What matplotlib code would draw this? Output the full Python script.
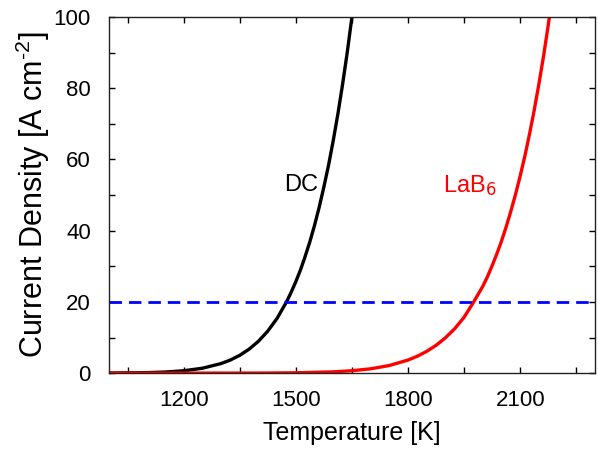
import numpy as np
import matplotlib
matplotlib.use('Agg')
import matplotlib.pyplot as plt
from matplotlib.ticker import MultipleLocator

plt.rcParams['font.family'] = ['Liberation Sans', 'DejaVu Sans']
plt.rcParams['mathtext.fontset'] = 'custom'
plt.rcParams['mathtext.rm'] = 'Liberation Sans'
plt.rcParams['mathtext.it'] = 'Liberation Sans:italic'

# values
dc_temp = [1000, 1100, 1150, 1200, 1250, 1300, 1325, 1350, 1375, 1400, 1425,
           1450, 1475, 1487.5, 1500, 1512.5, 1525, 1537.5, 1550, 1562.5, 1575,
           1587.5, 1600, 1612.5, 1625, 1637.5, 1650, 1662.5]
dc_current = [0.02, 0.13, 0.30, 0.66, 1.37, 2.68, 3.68, 5.0, 6.72, 8.95, 11.8,
              15.4, 20.0, 22.7, 25.7, 29.0, 32.8, 36.9, 41.5, 46.6, 52.3,
              58.4, 65.3, 72.8, 81.1, 90.1, 100.0, 110.8]

lab6_temp = [1000, 1200, 1400, 1500, 1600, 1650, 1700, 1750, 1800, 1825, 1850,
             1875, 1900, 1925, 1950, 1975, 2000, 2012.5, 2025, 2037.5, 2050,
             2062.5, 2075, 2087.5, 2100, 2112.5, 2125, 2137.5, 2150, 2162.5,
             2175, 2187.5, 2200]
lab6_current = [0.0, 0.0004, 0.018, 0.088, 0.35, 0.67, 1.21, 2.14, 3.67, 4.75, 6.11,
                7.81, 9.92, 12.5, 15.7, 19.9, 24.4, 27.1, 30.2, 33.5, 37.1,
                41.1, 45.5, 50.2, 55.4, 61.0, 67.2, 73.9, 81.2, 89.1,
                97.8, 107.1, 117.2]

threshold = 20

fig = plt.figure(figsize=(5.98, 4.49), dpi=100)
ax = fig.add_axes([0.182, 0.169, 0.813, 0.793])

ax.plot(dc_temp, dc_current, color='black', lw=2.4)
ax.plot(lab6_temp, lab6_current, color='#ff0000', lw=2.4)
ax.axhline(threshold, color='#0000ff', lw=2.0, dashes=(4.5, 2.5))

ax.text(1513, 52.8, 'DC', fontsize=17, color='black', ha='center', va='center')
ax.text(1893, 52.8, r'LaB$_{\mathsf{6}}$', fontsize=17, color='#ff0000',
        ha='left', va='center')

ax.set_xlim(1000, 2300)
ax.set_ylim(0, 100)
ax.set_xticks([1200, 1500, 1800, 2100])
ax.xaxis.set_minor_locator(MultipleLocator(150))
ax.yaxis.set_major_locator(MultipleLocator(20))
ax.yaxis.set_minor_locator(MultipleLocator(10))
ax.tick_params(which='both', direction='in', top=True, right=True,
               length=4, width=1, labelsize=16)
ax.tick_params(axis='x', pad=12)
ax.tick_params(axis='y', pad=13)

for s in ax.spines.values():
    s.set_linewidth(1.0)
    s.set_color('#222222')

ax.set_xlabel('Temperature [K]', fontsize=18, labelpad=7)
ax.set_ylabel(r'Current Density [A cm$^{\text{-2}}$]', fontsize=22, labelpad=1)

fig.savefig('out.png', dpi=100)
